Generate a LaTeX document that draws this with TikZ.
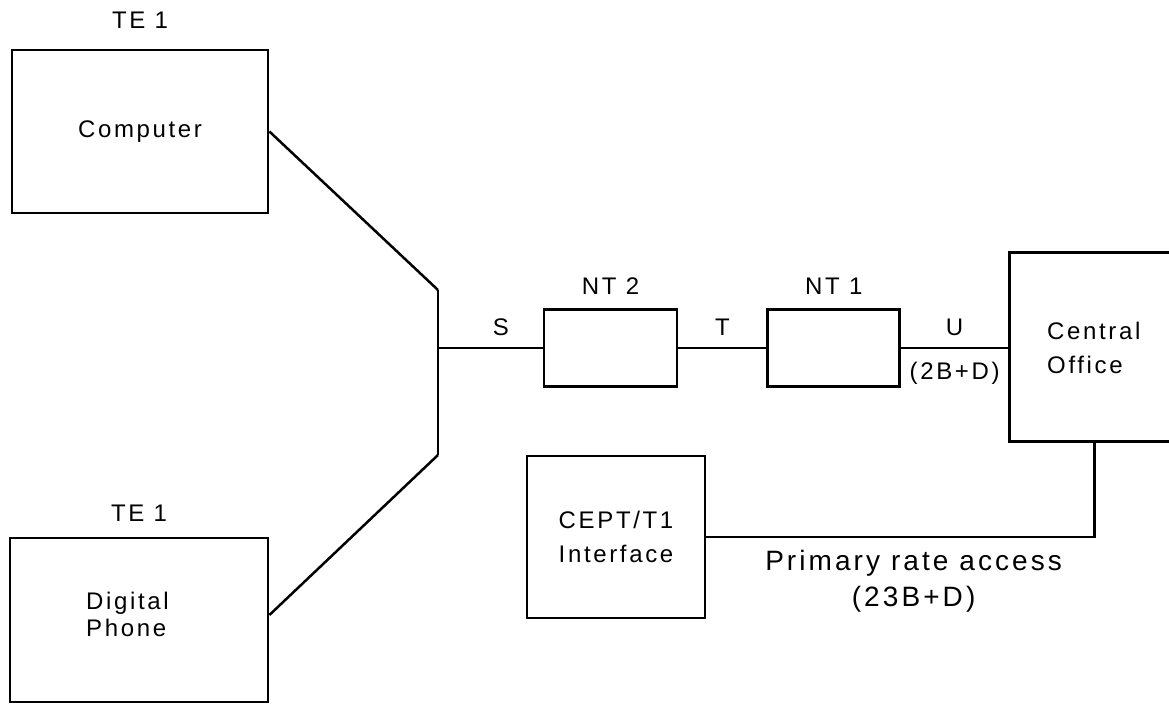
\documentclass[tikz,border=0pt]{standalone}
\usepackage{fontspec}
\newfontfamily\scanfont[LetterSpace=11]{Liberation Sans}
\usetikzlibrary{positioning}

\begin{document}
\begin{tikzpicture}[
  x=1pt,y=-1pt,
  font=\scanfont\fontsize{24}{34}\selectfont,
  box/.style={draw,line width=2.8pt,inner sep=0pt},
  lbl/.style={inner sep=0pt},
  wire/.style={line width=2.5pt},
  pralbl/.style={font=\scanfont\fontsize{28}{36}\selectfont},
]
\useasboundingbox (0,0) rectangle (1169,704);
\clip (0,0) rectangle (1169,704);

% terminal equipment (left)
\node[box,minimum width=256pt,minimum height=163pt] (comp) at (140,131.5) {Computer};
\node[box,minimum width=258pt,minimum height=164pt] (phone) at (139,620) {};
\node[lbl,align=left,anchor=west,font=\scanfont\fontsize{24}{27}\selectfont] (phonetxt) at (86,614) {Digital\\Phone};
\node[lbl,above=20pt of comp] (te1a) {TE 1};
\node[lbl,above=15pt of phone] (te1b) {TE 1};

% S bus
\coordinate (bustop) at (438,290);
\coordinate (busbot) at (438,455);
\coordinate (busS) at (438,348);
\draw[wire] (bustop) -- (busbot);
\draw[wire] (comp.east) -- (bustop);
\draw[wire] ([yshift=5pt]phone.east) -- (busbot);

% network terminations
\node[box,minimum width=133pt,minimum height=77pt] (nt2) at (610.5,348) {};
\node[box,minimum width=132pt,minimum height=77pt,right=88pt of nt2] (nt1) {};
\node[lbl,above=13pt of nt2] (nt2lbl) {NT 2};
\node[lbl,above=13pt of nt1] (nt1lbl) {NT 1};

% central office, runs off the right edge
\node[box,minimum width=180pt,minimum height=189pt,anchor=north west] (co) at (1008,251) {};
\node[lbl,align=left,anchor=west] (cotxt) at (1047,348) {Central\\Office};

% reference points
\draw[wire] (busS) -- node[lbl,pos=0.6,above=11pt] (s) {S} (nt2);
\draw[wire] (nt2) -- node[lbl,above=11pt] (t) {T} (nt1);
\draw[wire] (nt1) -- node[lbl,above=11pt] (u) {U} node[lbl,below=13pt] (ubr) {(2B+D)} (nt1 -| co.west);

% primary rate access
\node[box,minimum width=178pt,minimum height=162pt,align=left] (cept) at (616,537) {CEPT/T1\\Interface};
\draw[wire] ([xshift=-5pt]co.south) |- node[lbl,pralbl,pos=0.733,below=12pt,align=center] (pra) {Primary rate access\\(23B+D)} (cept.east);
\end{tikzpicture}
\end{document}
